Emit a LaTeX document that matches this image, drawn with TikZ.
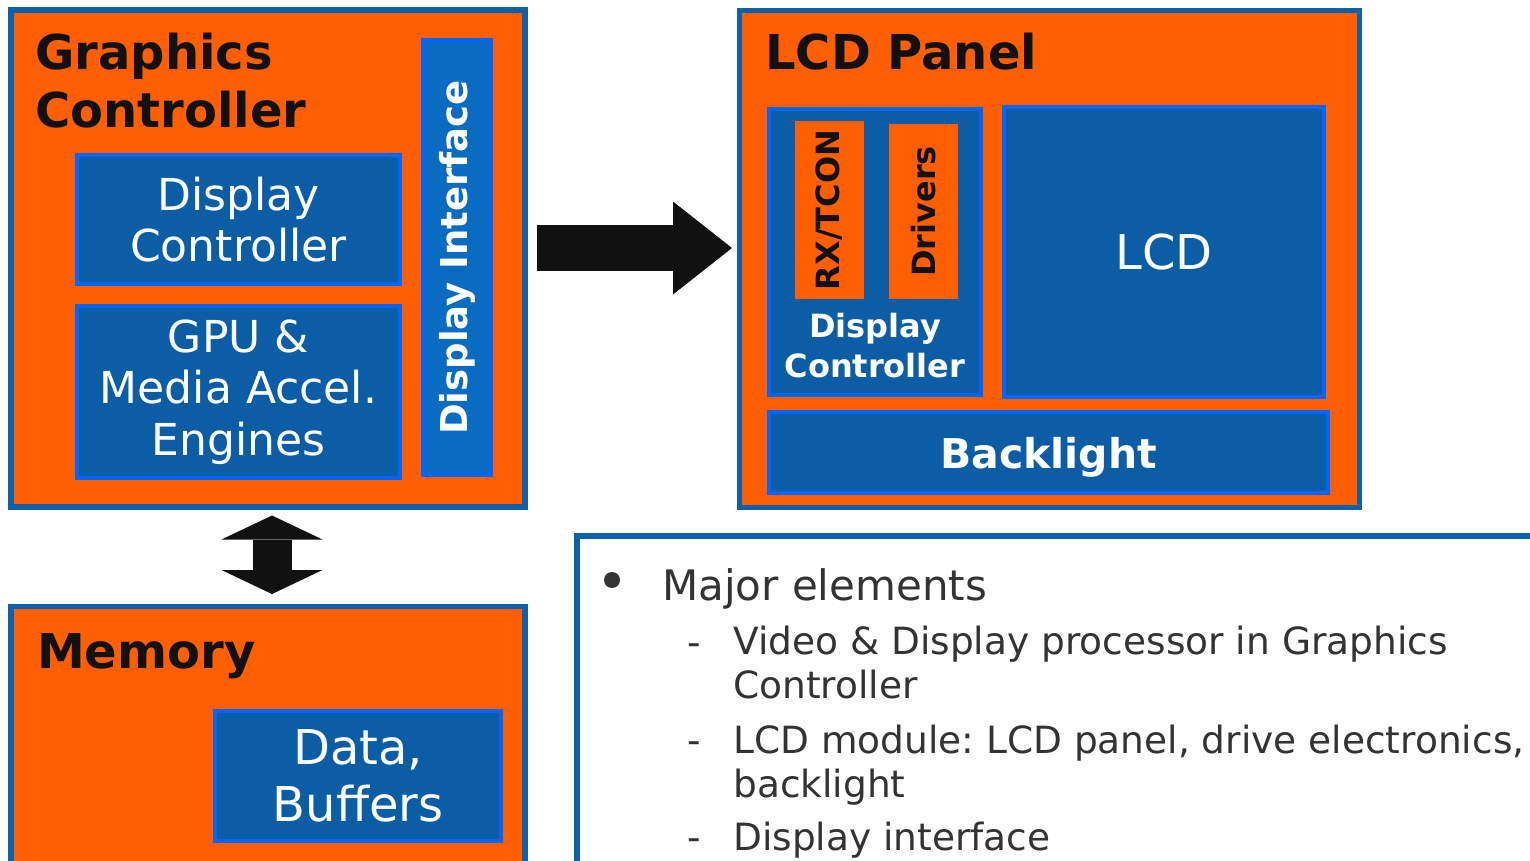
\documentclass[tikz,border=0pt]{standalone}
\usepackage{fontspec}
\setmainfont{DejaVu Sans}
\frenchspacing
\usetikzlibrary{positioning}
\usetikzlibrary{arrows.meta}
\definecolor{panelorange}{HTML}{FF5F00}
\definecolor{frameblue}{HTML}{0E60A8}
\definecolor{chipblue}{HTML}{0B5EA6}
\definecolor{edgeblue}{HTML}{0066FF}
\definecolor{ifblue}{HTML}{0A6BC2}
\definecolor{inkblack}{HTML}{111111}
\definecolor{notegray}{HTML}{333333}
\tikzset{frame/.style={draw=frameblue, line width=5.5pt, fill=panelorange, inner sep=0pt},
block/.style={draw=edgeblue, line width=4pt, fill=chipblue, text=white, inner sep=0pt, align=center},
chip/.style={fill=panelorange, inner sep=0pt, rotate=90, text=inkblack, font=\fontsize{32}{38}\selectfont\bfseries},
heading/.style={anchor=base west, inner sep=0pt, text=inkblack, align=left, font=\fontsize{48}{58}\selectfont\bfseries},
note/.style={anchor=base west, inner sep=0pt, text=notegray, align=left, font=\fontsize{37.5}{43.5}\selectfont},
bigarrow/.style={draw=inkblack, line width=46pt, -{Triangle[length=59pt, width=93pt, line width=0pt]}},
dualarrow/.style={draw=inkblack, line width=39pt, {Triangle[length=24pt, width=101pt, line width=0pt]}-{Triangle[length=24pt, width=101pt, line width=0pt]}}}
\begin{document}
\begin{tikzpicture}[x=1pt, y=-1pt]
\useasboundingbox (0,0) rectangle (1530,861);
% graphics controller
\node (gfx) [frame, minimum width=514, minimum height=497] at (268,258.5) {};
\node (gfxtitle) [heading] at (35,128) {Graphics\\Controller};
\node (dispctl) [block, minimum width=323, minimum height=129, font=\fontsize{44}{51}\selectfont] at (238.5,219.5) {Display\\Controller};
\node (gpu) [block, minimum width=323, minimum height=172, font=\fontsize{44}{51.5}\selectfont] at (238.5,392) {GPU \&\\Media Accel.\\Engines};
\node (dispif) [block, fill=ifblue, rotate=90, minimum width=435, minimum height=68, font=\fontsize{37}{44}\selectfont\bfseries] at (457,257.5) {Display Interface};

% lcd panel
\node (lcd) [frame, minimum width=620, minimum height=497] at (1049.5,259) {};
\node (lcdtitle) [heading] at (765,70) {LCD Panel};
\node (lcdctl) [block, minimum width=212, minimum height=286] at (875,252) {};
\node (rxtcon) [chip, minimum width=178, minimum height=69] at (829.5,210) {RX/TCON};
\node (drivers) [chip, minimum width=175, minimum height=69] at (923.5,211.5) {Drivers};
\node (lcdctllabel) [text=white, align=center, font=\fontsize{32}{40}\selectfont\bfseries] at (875,346) {Display\\Controller};
\node (screen) [block, minimum width=320, minimum height=289, font=\fontsize{48}{56}\selectfont] at (1164,252) {LCD};
\node (backlight) [block, minimum width=559, minimum height=81, text depth=0pt, font=\fontsize{41}{48}\selectfont\bfseries] at (1048.5,452.5) {Backlight};

% memory
\node (mem) [frame, minimum width=514, minimum height=274] at (268,743.5) {};
\node (memtitle) [heading] at (37,668) {Memory};
\node (buffers) [block, minimum width=286, minimum height=130, font=\fontsize{48}{57}\selectfont] at (358,776) {Data,\\Buffers};

% arrows
\coordinate (busy) at (0,248);
\coordinate (memx) at (272,0);
\draw[bigarrow, shorten <=9.25pt, shorten >=4.75pt] (gfx.east |- busy) -- (lcd.west |- busy);
\draw[dualarrow, shorten <=5.75pt, shorten >=9.75pt] (gfx.south -| memx) -- (mem.north -| memx);

% notes
\node (notes) [draw=frameblue, line width=5.5pt, fill=white, minimum width=983, minimum height=364, inner sep=0pt] at (1068.5,718) {};
\node (dot) [circle, fill=notegray, minimum size=16, inner sep=0pt] at (612,580) {};
\node (major) [note, font=\fontsize{42}{50}\selectfont] at (662,600) {Major elements};
\node (dash1) [note] at (687,655) {-};
\node (item1) [note] at (733,698) {Video \& Display processor in Graphics\\Controller};
\node (dash2) [note] at (687,753) {-};
\node (item2) [note] at (733,797) {LCD module: LCD panel, drive electronics,\\backlight};
\node (dash3) [note] at (687,850) {-};
\node (item3) [note] at (733,850) {Display interface};
\end{tikzpicture}
\end{document}
